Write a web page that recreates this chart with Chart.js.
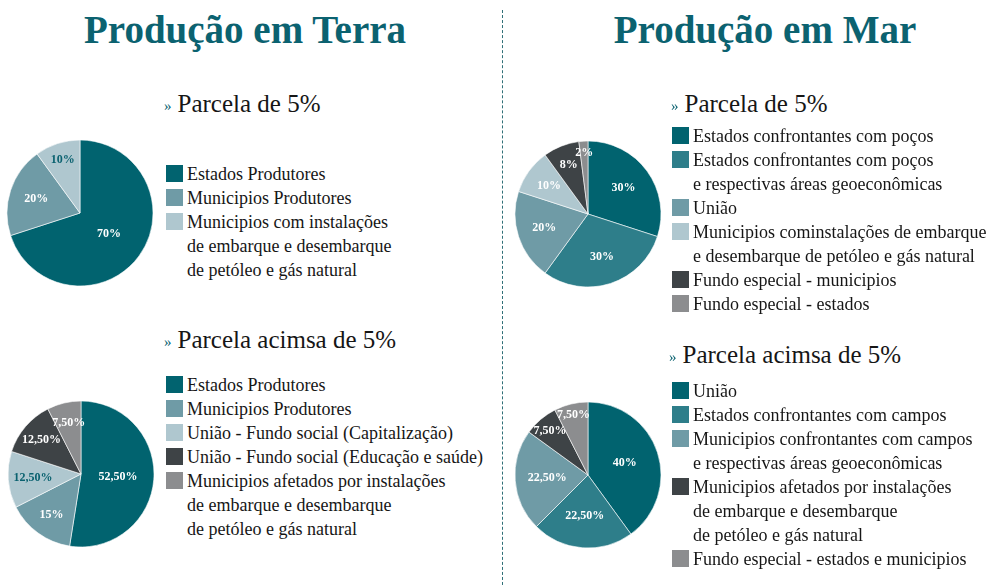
<!DOCTYPE html>
<html>
<head>
<meta charset="utf-8">
<script src="https://cdn.jsdelivr.net/npm/chart.js@4.4.1/dist/chart.umd.min.js"></script>
<style>
  html, body { margin: 0; padding: 0; background: #fff; }
  body { width: 999px; height: 587px; position: relative; overflow: hidden;
         font-family: 'Liberation Serif', 'Times New Roman', serif; color: #161616; }
  .title { position: absolute; top: 7px; font-size: 39px; font-weight: bold; color: #0b6270;
           line-height: 46px; text-align: center; width: 420px; }
  .divider { position: absolute; left: 502px; top: 10px; height: 580px; width: 0;
             border-left: 1.5px dashed #2f6f77; }
  .pie { position: absolute; }
  .heading { position: absolute; font-size: 25px; line-height: 30px; white-space: nowrap; }
  .heading .mark { color: #0b6270; font-size: 15px; margin-right: 6px; position: relative; top: -1px; }
  .legend { position: absolute; font-size: 18px; line-height: 24px; }
  .item { display: flex; align-items: flex-start; white-space: pre-line; }
  .sw { width: 17px; height: 17px; margin-top: 3px; margin-right: 4px; flex: none; }
</style>
</head>
<body>
<div class="title" style="left:35px">Produção em Terra</div>
<div class="title" style="left:555px">Produção em Mar</div>
<div class="divider"></div>

<canvas id="terra5" class="pie" width="170" height="170" style="left:-5px;top:128px"></canvas>
<canvas id="terraAcima" class="pie" width="170" height="170" style="left:-4px;top:389px"></canvas>
<canvas id="mar5" class="pie" width="170" height="170" style="left:503px;top:129px"></canvas>
<canvas id="marAcima" class="pie" width="170" height="170" style="left:503px;top:390px"></canvas>

<div class="heading" style="left:164px;top:89px"><span class="mark">»</span>Parcela de 5%</div>
<div class="legend" id="legTerra5" style="left:166px;top:162px"></div>
<div class="heading" style="left:164px;top:325px"><span class="mark">»</span>Parcela acimsa de 5%</div>
<div class="legend" id="legTerraAcima" style="left:166px;top:373px"></div>
<div class="heading" style="left:671px;top:89px"><span class="mark">»</span>Parcela de 5%</div>
<div class="legend" id="legMar5" style="left:672px;top:124px"></div>
<div class="heading" style="left:669px;top:340px"><span class="mark">»</span>Parcela acimsa de 5%</div>
<div class="legend" id="legMarAcima" style="left:672px;top:379px"></div>

<script>
// data
var terra5Labels = ['Estados Produtores', 'Municipios Produtores',
  'Municipios com instalações\nde embarque e desembarque\nde petóleo e gás natural'];
var terra5Values = [70, 20, 10];
var terra5Text = ['70%', '20%', '10%'];

var terraAcimaLabels = ['Estados Produtores', 'Municipios Produtores',
  'União - Fundo social (Capitalização)', 'União - Fundo social (Educação e saúde)',
  'Municipios afetados por instalações\nde embarque e desembarque\nde petóleo e gás natural'];
var terraAcimaValues = [52.5, 15, 12.5, 12.5, 7.5];
var terraAcimaText = ['52,50%', '15%', '12,50%', '12,50%', '7,50%'];

var mar5Labels = ['Estados confrontantes com poços',
  'Estados confrontantes com poços\ne respectivas áreas geoeconômicas', 'União',
  'Municipios cominstalações de embarque\ne desembarque de petóleo e gás natural',
  'Fundo especial - municipios', 'Fundo especial - estados'];
var mar5Values = [30, 30, 20, 10, 8, 2];
var mar5Text = ['30%', '30%', '20%', '10%', '8%', '2%'];

var marAcimaLabels = ['União', 'Estados confrontantes com campos',
  'Municipios confrontantes com campos\ne respectivas áreas geoeconômicas',
  'Municipios afetados por instalações\nde embarque e desembarque\nde petóleo e gás natural',
  'Fundo especial - estados e municipios'];
var marAcimaValues = [40, 22.5, 22.5, 7.5, 7.5];
var marAcimaText = ['40%', '22,50%', '22,50%', '7,50%', '7,50%'];

// colours
var DARK = '#01636f', TEAL = '#2e7e8a', MID = '#6f9ba6', LIGHT = '#afc7cf',
    CHAR = '#3e4346', GREY = '#8c8d8f';

var sliceLabels = {
  id: 'sliceLabels',
  afterDatasetsDraw: function(chart, args, opts) {
    var ctx = chart.ctx;
    var arcs = chart.getDatasetMeta(0).data;
    ctx.save();
    ctx.font = 'bold 12px "Liberation Serif", serif';
    ctx.textAlign = 'center';
    ctx.textBaseline = 'middle';
    arcs.forEach(function(arc, i) {
      var p = arc.getProps(['x', 'y', 'startAngle', 'endAngle', 'outerRadius'], true);
      var mid = (p.startAngle + p.endAngle) / 2;
      var r = p.outerRadius * opts.pos[i];
      ctx.fillStyle = opts.colors[i];
      ctx.fillText(opts.text[i], p.x + Math.cos(mid) * r, p.y + Math.sin(mid) * r);
    });
    ctx.restore();
  }
};

function makePie(id, values, colors, text, textColors, pos) {
  return new Chart(document.getElementById(id), {
    type: 'pie',
    data: {
      datasets: [{
        data: values,
        backgroundColor: colors,
        borderColor: '#ffffff',
        borderWidth: 0.6,
        radius: 73
      }]
    },
    options: {
      responsive: false,
      animation: false,
      layout: { padding: 0 },
      plugins: {
        legend: { display: false },
        tooltip: { enabled: false },
        sliceLabels: { text: text, colors: textColors, pos: pos }
      }
    },
    plugins: [sliceLabels]
  });
}

function makeLegend(id, labels, colors) {
  var el = document.getElementById(id);
  labels.forEach(function(l, i) {
    var row = document.createElement('div');
    row.className = 'item';
    var sw = document.createElement('span');
    sw.className = 'sw';
    sw.style.background = colors[i];
    var tx = document.createElement('span');
    tx.textContent = l;
    row.appendChild(sw);
    row.appendChild(tx);
    el.appendChild(row);
  });
}

var terra5Colors = [DARK, MID, LIGHT];
var terraAcimaColors = [DARK, MID, LIGHT, CHAR, GREY];
var mar5Colors = [DARK, TEAL, MID, LIGHT, CHAR, GREY];
var marAcimaColors = [DARK, TEAL, MID, CHAR, GREY];

makePie('terra5', terra5Values, terra5Colors, terra5Text,
  ['#fff', '#fff', '#0b6270'], [0.49, 0.63, 0.76]);
makePie('terraAcima', terraAcimaValues, terraAcimaColors, terraAcimaText,
  ['#fff', '#fff', '#0b6270', '#fff', '#fff'], [0.51, 0.69, 0.66, 0.71, 0.72]);
makePie('mar5', mar5Values, mar5Colors, mar5Text,
  ['#fff', '#fff', '#fff', '#fff', '#fff', '#fff'], [0.6, 0.62, 0.63, 0.66, 0.72, 0.84]);
makePie('marAcima', marAcimaValues, marAcimaColors, marAcimaText,
  ['#fff', '#fff', '#fff', '#fff', '#fff'], [0.53, 0.56, 0.56, 0.8, 0.85]);

makeLegend('legTerra5', terra5Labels, terra5Colors);
makeLegend('legTerraAcima', terraAcimaLabels, terraAcimaColors);
makeLegend('legMar5', mar5Labels, mar5Colors);
makeLegend('legMarAcima', marAcimaLabels, marAcimaColors);
</script>
</body>
</html>
